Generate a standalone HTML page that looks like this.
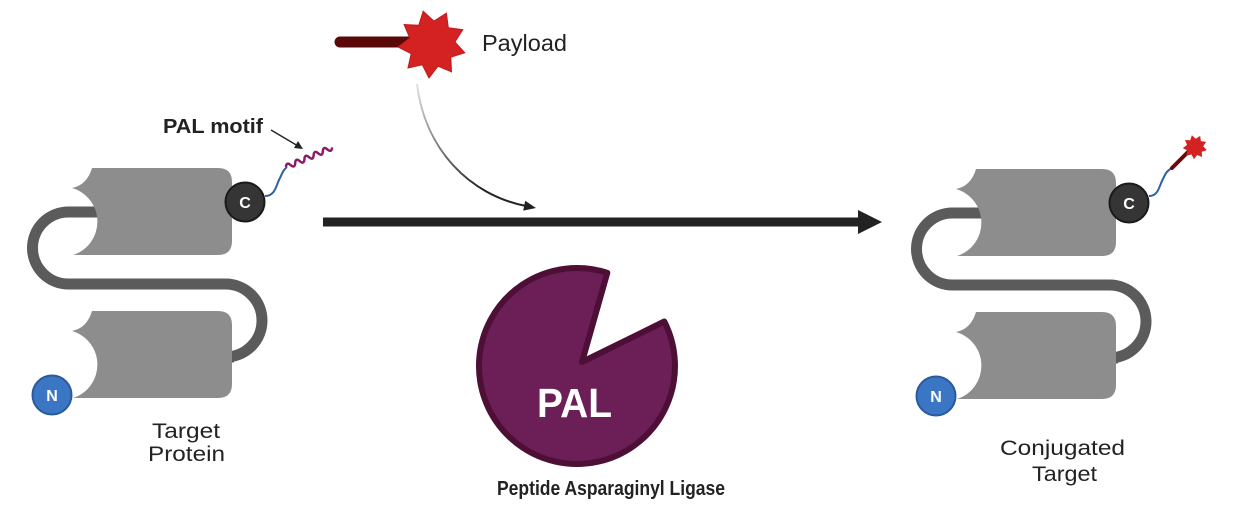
<!DOCTYPE html>
<html>
<head>
<meta charset="utf-8">
<style>
  html,body{margin:0;padding:0;background:#ffffff;}
  body{width:1240px;height:524px;overflow:hidden;}
  svg{display:block;}
  text{font-family:"Liberation Sans",Arial,sans-serif;fill:#222;}
</style>
</head>
<body>
<svg width="1240" height="524" viewBox="0 0 1240 524" xmlns="http://www.w3.org/2000/svg">
  <defs>
    <linearGradient id="fade" gradientUnits="userSpaceOnUse" x1="417" y1="82" x2="480" y2="190">
      <stop offset="0" stop-color="#e4e4e4"/>
      <stop offset="1" stop-color="#222"/>
    </linearGradient>
    <g id="block">
      <path d="M92,168 L218,168 Q232,168 232,182 L232,241 Q232,255 218,255 L73,255 A35 35 0 0 0 72,188 Q87,185 92,168 Z" fill="#8d8d8d"/>
    </g>
    <g id="protein">
      <path d="M100,212 L68.5,212 A36 36 0 0 0 68.5,284 L225.5,284 A36.5 36.5 0 0 1 225.5,357 L234,357" fill="none" stroke="#5b5b5b" stroke-width="11"/>
      <use href="#block"/>
      <use href="#block" transform="translate(0,143)"/>
      <circle cx="52" cy="395" r="19.5" fill="#3b76c4" stroke="#2a5a9c" stroke-width="2"/>
      <text x="52" y="401" font-size="16" font-weight="bold" text-anchor="middle" style="fill:#fff">N</text>
      <circle cx="245" cy="202" r="19.5" fill="#353535" stroke="#1a1a1a" stroke-width="2"/>
      <text x="245" y="208" font-size="16" font-weight="bold" text-anchor="middle" style="fill:#fff">C</text>
    </g>
    <polygon id="star" points="-8.8,-32.8 2.0,-22.9 14.4,-30.8 16.3,-16.3 30.8,-14.4 22.9,-2.0 32.8,8.8 18.8,13.2 19.5,27.9 6.0,22.2 -3.0,33.9 -9.7,20.8 -24.0,24.0 -20.8,9.7 -33.9,3.0 -22.2,-6.0 -27.9,-19.5 -13.2,-18.8"/>
  </defs>

  <!-- Left: target protein -->
  <use href="#protein"/>
  <path d="M265,196 C275,196 276,186 279,180 S283,170 287,167" fill="none" stroke="#2e5fa0" stroke-width="2"/>
  <g transform="translate(286,167) rotate(-23)">
    <path d="M0,0 q2.5,-5 5,0 t5,0 t5,0 t5,0 t5,0 t5,0 t5,0 t5,0 t5,0 t5,0" fill="none" stroke="#8b1a6b" stroke-width="2.5"/>
  </g>
  <!-- PAL motif label + arrow -->
  <text x="163" y="133" font-size="20" font-weight="bold" textLength="100" lengthAdjust="spacingAndGlyphs">PAL motif</text>
  <line x1="271" y1="130" x2="298" y2="146" stroke="#222" stroke-width="1.4"/>
  <polygon points="303,149 294,148 298,141" fill="#222"/>
  <text x="186" y="438" font-size="21" text-anchor="middle" textLength="68" lengthAdjust="spacingAndGlyphs">Target</text>
  <text x="186.5" y="461" font-size="21" text-anchor="middle" textLength="77" lengthAdjust="spacingAndGlyphs">Protein</text>

  <!-- Payload -->
  <line x1="340" y1="42" x2="410" y2="42" stroke="#5a0808" stroke-width="11" stroke-linecap="round"/>
  <use href="#star" transform="translate(432,44)" fill="#d42222" stroke="#c01a1a" stroke-width="1"/>
  <text x="482" y="51" font-size="23" textLength="85" lengthAdjust="spacingAndGlyphs">Payload</text>

  <!-- curved arrow -->
  <path d="M417,84 C425,150 470,195 526,206" fill="none" stroke="url(#fade)" stroke-width="2"/>
  <polygon points="536,208 525.2,200.8 523.2,210.6" fill="#222"/>

  <!-- main arrow -->
  <rect x="323" y="217.5" width="540" height="9" fill="#222"/>
  <polygon points="858,210 882,222 858,234" fill="#222"/>

  <!-- PAL enzyme -->
  <path d="M582,362 L607.3,272.8 A98 98 0 1 0 664.3,321.5 Z" fill="#6b1f56" stroke="#4d0f36" stroke-width="6" stroke-linejoin="round"/>
  <text x="574.5" y="417" font-size="41" font-weight="bold" text-anchor="middle" textLength="75" lengthAdjust="spacingAndGlyphs" style="fill:#fff">PAL</text>
  <text x="611" y="495" font-size="20" font-weight="bold" text-anchor="middle" textLength="228" lengthAdjust="spacingAndGlyphs">Peptide Asparaginyl Ligase</text>

  <!-- Right: conjugated target -->
  <g transform="translate(884,1)">
    <use href="#protein"/>
    <path d="M265,195 C274,195 275,186 278,180 S282,170 288,167" fill="none" stroke="#2e5fa0" stroke-width="2"/>
    <line x1="288" y1="167" x2="304" y2="151" stroke="#6a0a0a" stroke-width="4" stroke-linecap="round"/>
    <use href="#star" transform="translate(311,146) scale(0.36)" fill="#d42222"/>
  </g>
  <text x="1062.5" y="455" font-size="21" text-anchor="middle" textLength="125" lengthAdjust="spacingAndGlyphs">Conjugated</text>
  <text x="1064.5" y="481" font-size="21" text-anchor="middle" textLength="65" lengthAdjust="spacingAndGlyphs">Target</text>
</svg>
</body>
</html>
